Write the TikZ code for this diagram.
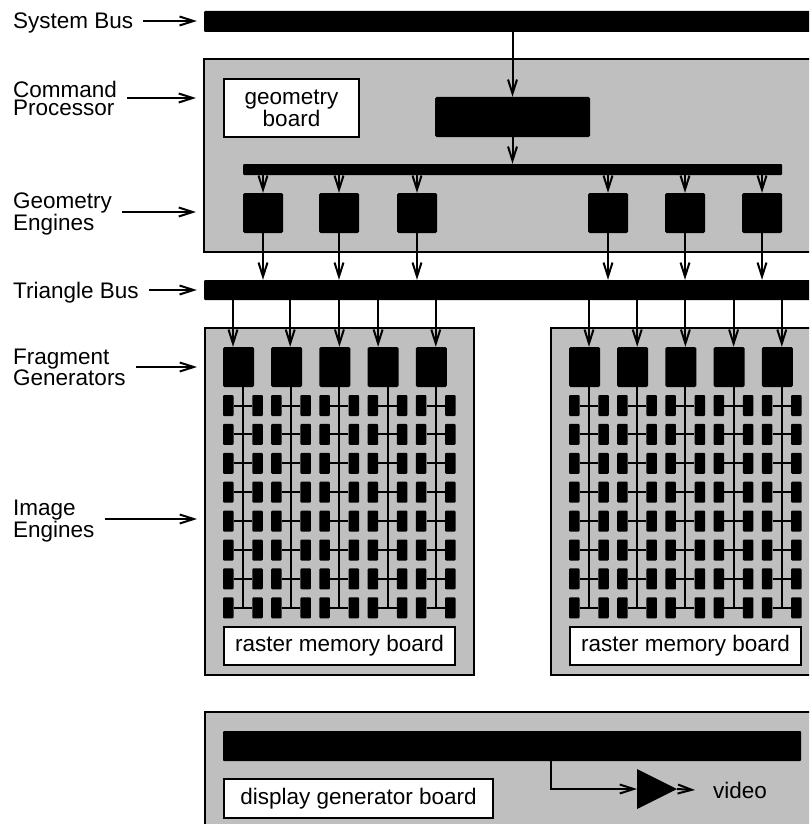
\documentclass[tikz,border=0pt]{standalone}
\usepackage{fontspec}
\setmainfont{Liberation Sans}
\usetikzlibrary{arrows.meta}

\begin{document}
\begin{tikzpicture}[x=1pt,y=-1pt,
  font=\fontsize{22.5}{18}\selectfont,
  arr/.style={line width=2pt,-{Straight Barb[length=14pt,width=9pt]}},
  wire/.style={line width=2pt},
  board/.style={draw,line width=2pt,fill=black!25,inner sep=0pt},
  bus/.style={fill=black,inner sep=0pt,rounded corners=1pt},
  chip/.style={fill=black,inner sep=0pt,rounded corners=1.5pt},
  cell/.style={fill=black,inner sep=0pt,minimum width=10.5pt,minimum height=21pt,rounded corners=1pt},
  tag/.style={draw,line width=2pt,fill=white,inner sep=0pt,align=center},
  lbl/.style={anchor=west,inner sep=0pt,align=left,text depth=0pt}]
  \useasboundingbox (0,0) rectangle (809,824);
  \clip (0,0) rectangle (809,824);

  \node[bus,minimum width=626pt,minimum height=21pt] (sysbus) at (517,21.5) {};
  \node[board,minimum width=626pt,minimum height=193pt] (cpboard) at (517,155.5) {};
  \node[tag,minimum width=135pt,minimum height=58pt] (geoboard) at (291.5,108) {geometry\\board};
  \node[chip,minimum width=155pt,minimum height=40pt] (cmdproc) at (512.5,117) {};
  \node[bus,minimum width=539pt,minimum height=11pt] (gebus) at (512.5,169.5) {};
  \draw[arr] (cmdproc.north |- sysbus.south) -- (cmdproc.north);
  \draw[arr] (cmdproc.south) -- (cmdproc.south |- gebus.north);

  \node[bus,minimum width=626pt,minimum height=20pt] (tribus) at (517,290) {};
  \foreach \x [count=\i] in {263,339,417,608,685,762} {
    \node[chip,minimum size=40pt] (ge\i) at (\x,213) {};
    \draw[arr] (ge\i.north |- gebus.south) -- (ge\i.north);
    \draw[arr] (ge\i.south) -- (ge\i.south |- tribus.north);
  }

  \foreach \side/\bx/\offs in {L/205/{-5.5,3.5,4.5,-5,4.5},R/551/{4.5,4.5,4.5,4.5,4.5}} {
    \node[board,minimum width=269pt,minimum height=347pt] (rb\side) at (\bx+134.5,501.5) {};
    \node[tag,minimum width=231pt,minimum height=38pt] (rmb\side) at (\bx+134.5,646) {raster memory board};
    \foreach \dx [count=\c from 0] in \offs {
      \pgfmathsetmacro{\xl}{\bx+18+48.2*\c}
      \node[chip,minimum width=31pt,minimum height=40pt] (fg\side\c) at (\xl+15.5,367) {};
      \draw[arr] ([xshift=\dx]fg\side\c.north |- tribus.south) -- ([xshift=\dx]fg\side\c.north);
      \foreach \r in {0,...,7} {
        \node[cell] (ie\side\c-a-\r) at (\xl+5.25,405.5+28.9*\r) {};
        \node[cell] (ie\side\c-b-\r) at (\xl+34.5,405.5+28.9*\r) {};
        \draw[wire] (ie\side\c-a-\r.east) -- (ie\side\c-b-\r.west);
      }
      \draw[wire] ([xshift=4.5]fg\side\c.south) -- ([xshift=4.5]fg\side\c.south |- ie\side\c-a-7.center);
    }
  }

  \node[board,minimum width=625pt,minimum height=140pt] (dgboard) at (517.5,782) {};
  \node[bus,minimum width=578pt,minimum height=30pt] (dgbus) at (512,746) {};
  \node[tag,minimum width=269pt,minimum height=39pt] (dgtag) at (358.5,798.5) {display generator board};
  \fill (637,769) -- (677,789) -- (637,809) -- cycle;
  \coordinate (ampin) at (637,789);
  \coordinate (ampout) at (677,789);
  \node[inner sep=0pt,anchor=west] (video) at (713,790) {video};
  \draw[arr] ([xshift=39]dgbus.south) |- (ampin);
  \draw[arr] (ampout) -- ([xshift=-18]video.west);

  \node[lbl] (lsys) at (13,21) {System Bus};
  \node[lbl] (lcp) at (13,98) {Command\\Processor};
  \node[lbl] (lge) at (13,212) {Geometry\\Engines};
  \node[lbl] (ltri) at (13,290) {Triangle Bus};
  \node[lbl] (lfg) at (13,367) {Fragment\\Generators};
  \node[lbl] (lie) at (13,519) {Image\\Engines};
  \draw[arr,shorten <=10pt,shorten >=7pt] (lsys.east) -- (lsys.east -| sysbus.west);
  \draw[arr,shorten <=10pt,shorten >=7pt] (lcp.east) -- (lcp.east -| cpboard.west);
  \draw[arr,shorten <=10pt,shorten >=7pt] (lge.east) -- (lge.east -| cpboard.west);
  \draw[arr,shorten <=10pt,shorten >=7pt] (ltri.east) -- (ltri.east -| tribus.west);
  \draw[arr,shorten <=10pt,shorten >=7pt] (lfg.east) -- (lfg.east -| rbL.west);
  \draw[arr,shorten <=10pt,shorten >=7pt] (lie.east) -- (lie.east -| rbL.west);
\end{tikzpicture}
\end{document}
